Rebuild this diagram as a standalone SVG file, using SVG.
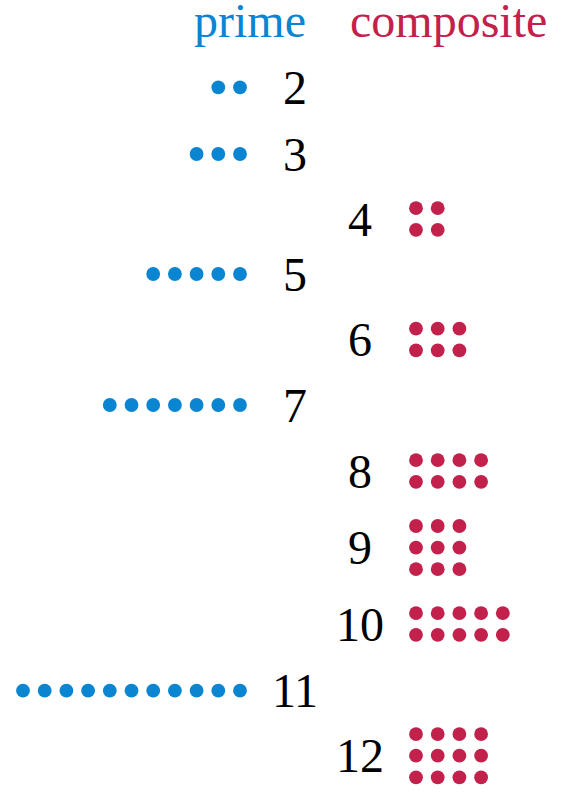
<svg xmlns="http://www.w3.org/2000/svg" width="569" height="800" viewBox="0 0 569 800">
<style>
.t{font-family:"Liberation Serif","Times New Roman",serif;font-size:48px;}
.n{fill:#000;text-anchor:middle;}
.p{fill:#0A85D1;}
.c{fill:#C2214B;}
</style>
<defs>
<circle id="pd" r="6.9" fill="#0A85D1"/>
<circle id="cd" r="6.9" fill="#C2214B"/>
</defs>
<rect width="569" height="800" fill="#fff"/>
<g id="headers">
<text class="t p" x="306" y="37" text-anchor="end">prime</text>
<text class="t c" x="350" y="37">composite</text>
</g>
<g id="n2">
<use href="#pd" x="240" y="87.3"/><use href="#pd" x="218.3" y="87.3"/>
<text class="t n" x="295" y="104">2</text>
</g>
<g id="n3">
<use href="#pd" x="240" y="154"/><use href="#pd" x="218.3" y="154"/><use href="#pd" x="196.6" y="154"/>
<text class="t n" x="295" y="170.5">3</text>
</g>
<g id="n4">
<text class="t n" x="360" y="235.5">4</text>
<use href="#cd" x="416" y="208.2"/><use href="#cd" x="437.7" y="208.2"/>
<use href="#cd" x="416" y="229.8"/><use href="#cd" x="437.7" y="229.8"/>
</g>
<g id="n5">
<use href="#pd" x="240" y="274"/><use href="#pd" x="218.3" y="274"/><use href="#pd" x="196.6" y="274"/><use href="#pd" x="174.9" y="274"/><use href="#pd" x="153.2" y="274"/>
<text class="t n" x="295" y="290.5">5</text>
</g>
<g id="n6">
<text class="t n" x="360" y="356">6</text>
<use href="#cd" x="416" y="328.7"/><use href="#cd" x="437.7" y="328.7"/><use href="#cd" x="459.4" y="328.7"/>
<use href="#cd" x="416" y="350.3"/><use href="#cd" x="437.7" y="350.3"/><use href="#cd" x="459.4" y="350.3"/>
</g>
<g id="n7">
<use href="#pd" x="240" y="405"/><use href="#pd" x="218.3" y="405"/><use href="#pd" x="196.6" y="405"/><use href="#pd" x="174.9" y="405"/><use href="#pd" x="153.2" y="405"/><use href="#pd" x="131.5" y="405"/><use href="#pd" x="109.8" y="405"/>
<text class="t n" x="295" y="421.5">7</text>
</g>
<g id="n8">
<text class="t n" x="360" y="487.5">8</text>
<use href="#cd" x="416" y="460.2"/><use href="#cd" x="437.7" y="460.2"/><use href="#cd" x="459.4" y="460.2"/><use href="#cd" x="481.1" y="460.2"/>
<use href="#cd" x="416" y="481.8"/><use href="#cd" x="437.7" y="481.8"/><use href="#cd" x="459.4" y="481.8"/><use href="#cd" x="481.1" y="481.8"/>
</g>
<g id="n9">
<text class="t n" x="360" y="564">9</text>
<use href="#cd" x="416" y="526"/><use href="#cd" x="437.7" y="526"/><use href="#cd" x="459.4" y="526"/>
<use href="#cd" x="416" y="547.6"/><use href="#cd" x="437.7" y="547.6"/><use href="#cd" x="459.4" y="547.6"/>
<use href="#cd" x="416" y="569.2"/><use href="#cd" x="437.7" y="569.2"/><use href="#cd" x="459.4" y="569.2"/>
</g>
<g id="n10">
<text class="t n" x="360" y="640.5">10</text>
<use href="#cd" x="416" y="613.2"/><use href="#cd" x="437.7" y="613.2"/><use href="#cd" x="459.4" y="613.2"/><use href="#cd" x="481.1" y="613.2"/><use href="#cd" x="502.8" y="613.2"/>
<use href="#cd" x="416" y="634.8"/><use href="#cd" x="437.7" y="634.8"/><use href="#cd" x="459.4" y="634.8"/><use href="#cd" x="481.1" y="634.8"/><use href="#cd" x="502.8" y="634.8"/>
</g>
<g id="n11">
<use href="#pd" x="240" y="690.7"/><use href="#pd" x="218.3" y="690.7"/><use href="#pd" x="196.6" y="690.7"/><use href="#pd" x="174.9" y="690.7"/><use href="#pd" x="153.2" y="690.7"/><use href="#pd" x="131.5" y="690.7"/><use href="#pd" x="109.8" y="690.7"/><use href="#pd" x="88.1" y="690.7"/><use href="#pd" x="66.4" y="690.7"/><use href="#pd" x="44.7" y="690.7"/><use href="#pd" x="23" y="690.7"/>
<text class="t n" x="295" y="707">11</text>
</g>
<g id="n12">
<text class="t n" x="360" y="772">12</text>
<use href="#cd" x="416" y="734.1"/><use href="#cd" x="437.7" y="734.1"/><use href="#cd" x="459.4" y="734.1"/><use href="#cd" x="481.1" y="734.1"/>
<use href="#cd" x="416" y="755.7"/><use href="#cd" x="437.7" y="755.7"/><use href="#cd" x="459.4" y="755.7"/><use href="#cd" x="481.1" y="755.7"/>
<use href="#cd" x="416" y="777.3"/><use href="#cd" x="437.7" y="777.3"/><use href="#cd" x="459.4" y="777.3"/><use href="#cd" x="481.1" y="777.3"/>
</g>
<g id="connectors"></g>
</svg>
